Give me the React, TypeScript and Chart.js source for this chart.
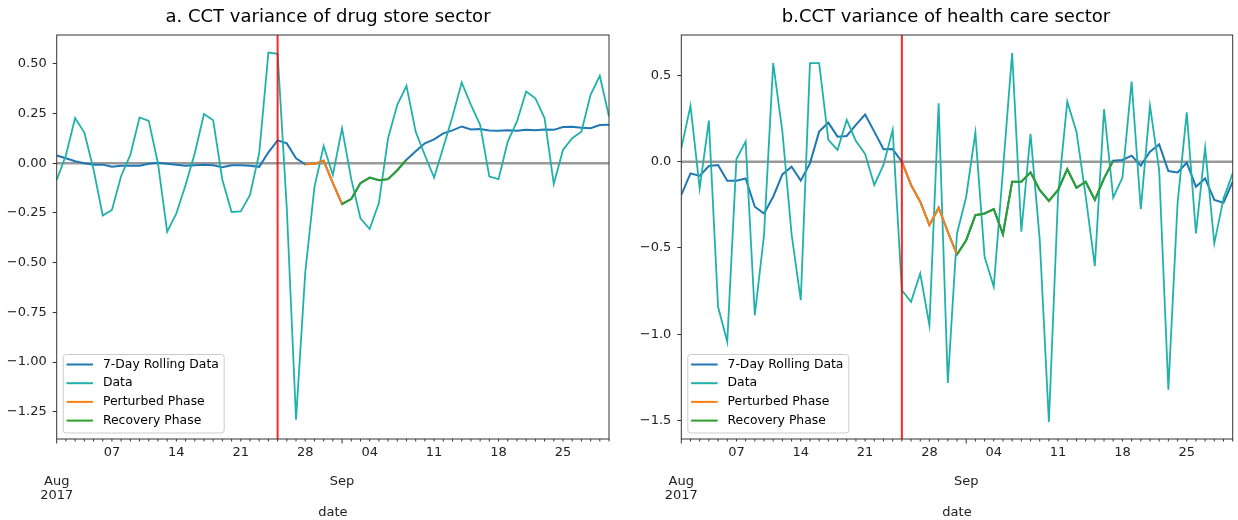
import React, { useEffect, useRef } from 'react';
import { Chart, registerables } from 'chart.js';

Chart.register(...registerables);

// ---------- data (index 0 = 2017-08-01 … index 60 = 2017-09-30) ----------
const weekTickIdx = [6, 13, 20, 27, 34, 41, 48, 55];
const weekTickLabels = ['07', '14', '21', '28', '04', '11', '18', '25'];
const monthTickIdx = [0, 31];
const monthTickLabels = [['Aug', '2017'], ['Sep']];
const eventIdx = 24; // 2017-08-25
const legendLabels = ['7-Day Rolling Data', 'Data', 'Perturbed Phase', 'Recovery Phase'];

const drugTitle = 'a. CCT variance of drug store sector';
const drugData = [
  -0.084, 0.04, 0.227, 0.154, -0.03, -0.263, -0.235, -0.064, 0.042, 0.23,
  0.213, 0.0, -0.344, -0.252, -0.11, 0.05, 0.248, 0.216, -0.084, -0.245,
  -0.242, -0.16, 0.05, 0.557, 0.55, -0.23, -1.29, -0.55, -0.12, 0.087,
  -0.059, 0.176, -0.08, -0.277, -0.331, -0.2, 0.126, 0.294, 0.389, 0.159,
  0.04, -0.072, 0.08, 0.235, 0.406, 0.294, 0.193, -0.067, -0.08, 0.109,
  0.21, 0.361, 0.327, 0.227, -0.104, 0.067, 0.126, 0.159, 0.344, 0.44,
  0.235,
];
const drugRolling = [
  0.039, 0.025, 0.01, 0.0, -0.007, -0.007, -0.018, -0.013, -0.013, -0.013,
  -0.003, 0.003, -0.003, -0.008, -0.013, -0.01, -0.008, -0.01, -0.02, -0.01,
  -0.01, -0.013, -0.018, 0.055, 0.115, 0.1, 0.025, -0.005, -0.003, 0.013,
  -0.1, -0.205, -0.18, -0.1, -0.072, -0.085, -0.08, -0.035, 0.018, 0.06,
  0.1, 0.12, 0.15, 0.165, 0.185, 0.17, 0.172, 0.165, 0.163, 0.166,
  0.163, 0.168, 0.166, 0.17, 0.168, 0.182, 0.183, 0.178, 0.176, 0.192,
  0.193,
];
const drugPerturbed = [27, 31];
const drugRecovery = [31, 38];
const drugYTicks = [0.5, 0.25, 0, -0.25, -0.5, -0.75, -1.0, -1.25];

const healthTitle = 'b.CCT variance of health care sector';
const healthData = [
  0.077, 0.323, -0.155, 0.238, -0.841, -1.044, 0.015, 0.116, -0.89, -0.426,
  0.571, 0.174, -0.42, -0.803, 0.571, 0.571, 0.126, 0.068, 0.242, 0.12,
  0.045, -0.135, -0.019, 0.184, -0.745, -0.812, -0.648, -0.948, 0.338, -1.282,
  -0.416, -0.203, 0.168, -0.551, -0.725, -0.05, 0.629, -0.406, 0.161, -0.45,
  -1.509, -0.193, 0.348, 0.174, -0.2, -0.605, 0.304, -0.209, -0.093, 0.464,
  -0.275, 0.325, -0.05, -1.321, -0.242, 0.286, -0.416, 0.081, -0.474, -0.213,
  -0.068,
];
const healthRolling = [
  -0.193, -0.068, -0.083, -0.025, -0.019, -0.11, -0.11, -0.097, -0.261, -0.3,
  -0.203, -0.074, -0.029, -0.11, -0.01, 0.174, 0.226, 0.145, 0.149, 0.213,
  0.273, 0.174, 0.072, 0.073, 0.0, -0.135, -0.232, -0.368, -0.267, -0.406,
  -0.538, -0.455, -0.31, -0.3, -0.275, -0.42, -0.116, -0.116, -0.062, -0.164,
  -0.227, -0.164, -0.043, -0.151, -0.116, -0.222, -0.097, 0.006, 0.01, 0.035,
  -0.023, 0.058, 0.1, -0.054, -0.062, -0.006, -0.145, -0.097, -0.222, -0.238,
  -0.116,
];
const healthPerturbed = [24, 30];
const healthRecovery = [30, 47];
const healthYTicks = [0.5, 0.0, -0.5, -1.0, -1.5];

// ---------- styles ----------
const FONT = "'DejaVu Sans', 'Liberation Sans', sans-serif";
const C_ROLL = '#1f77b4';
const C_DATA = '#20b2aa';
const C_PERT = '#ff7f0e';
const C_REC = '#2ca02c';
const legendColors = [C_ROLL, C_DATA, C_PERT, C_REC];
const TXT = 13;
const LEG_TXT = 12.4;

type PanelCfg = {
  title: string;
  titleX: number;
  data: number[];
  rolling: number[];
  perturbed: number[];
  recovery: number[];
  yTicks: number[];
  yDecimals: number;
  yMin: number;
  yMax: number;
  yAxisWidth: number;
  padRight: number;
  canvasLeft: number;
};

const W = 619;
const H = 520;

function fmt(v: number, d: number) {
  const s = Math.abs(v).toFixed(d);
  return v < -1e-9 ? '\u2212' + s : s;
}

function Panel({ cfg }: { cfg: PanelCfg }) {
  const ref = useRef<HTMLCanvasElement | null>(null);
  useEffect(() => {
    const pts = (arr: number[], range?: number[]) =>
      arr.map((v, i) => ({ x: i, y: range && (i < range[0] || i > range[1]) ? null : v }));
    const lastIdx = cfg.data.length - 1;

    const decor = {
      id: 'decor',
      beforeDatasetsDraw(chart: any) {
        const { ctx, chartArea: ca, scales } = chart;
        const y0 = scales.y.getPixelForValue(0);
        ctx.save();
        ctx.strokeStyle = 'rgba(128,128,128,0.8)';
        ctx.lineWidth = 2.5;
        ctx.beginPath();
        ctx.moveTo(ca.left, y0);
        ctx.lineTo(ca.right, y0);
        ctx.stroke();
        ctx.restore();
      },
      afterDatasetsDraw(chart: any) {
        const { ctx, chartArea: ca, scales } = chart;
        const xr = scales.x.getPixelForValue(eventIdx);
        ctx.save();
        ctx.strokeStyle = 'rgba(255,0,0,0.85)';
        ctx.lineWidth = 2;
        ctx.beginPath();
        ctx.moveTo(xr, ca.top);
        ctx.lineTo(xr, ca.bottom);
        ctx.stroke();
        ctx.restore();
      },
      afterDraw(chart: any) {
        const { ctx, chartArea: ca, scales } = chart;
        ctx.save();
        // frame
        ctx.strokeStyle = '#333';
        ctx.lineWidth = 1;
        ctx.strokeRect(ca.left, ca.top, ca.right - ca.left, ca.bottom - ca.top);
        // x tick marks (daily minor, monthly major)
        for (let i = 0; i <= lastIdx; i++) {
          const x = scales.x.getPixelForValue(i);
          const len = monthTickIdx.includes(i) ? 4.5 : 2.5;
          ctx.beginPath();
          ctx.moveTo(x, ca.bottom);
          ctx.lineTo(x, ca.bottom + len);
          ctx.stroke();
        }
        // month labels
        ctx.fillStyle = '#222';
        ctx.font = `${TXT}px ${FONT}`;
        ctx.textAlign = 'center';
        ctx.textBaseline = 'middle';
        monthTickIdx.forEach((idx, k) => {
          const x = scales.x.getPixelForValue(idx);
          monthTickLabels[k].forEach((line, j) => {
            ctx.fillText(line, x, 482 + j * 14);
          });
        });
        // title
        ctx.fillStyle = '#000';
        ctx.font = `18px ${FONT}`;
        ctx.fillText(cfg.title, cfg.titleX, 17);
        // legend
        const bw = 161;
        const bh = 78.5;
        const bx = ca.left + 6.5;
        const by = ca.bottom - 6 - bh;
        ctx.beginPath();
        const r = 3;
        ctx.moveTo(bx + r, by);
        ctx.lineTo(bx + bw - r, by);
        ctx.arcTo(bx + bw, by, bx + bw, by + r, r);
        ctx.lineTo(bx + bw, by + bh - r);
        ctx.arcTo(bx + bw, by + bh, bx + bw - r, by + bh, r);
        ctx.lineTo(bx + r, by + bh);
        ctx.arcTo(bx, by + bh, bx, by + bh - r, r);
        ctx.lineTo(bx, by + r);
        ctx.arcTo(bx, by, bx + r, by, r);
        ctx.closePath();
        ctx.fillStyle = 'rgba(255,255,255,0.8)';
        ctx.fill();
        ctx.strokeStyle = '#cccccc';
        ctx.lineWidth = 1;
        ctx.stroke();
        ctx.textAlign = 'left';
        ctx.font = `${LEG_TXT}px ${FONT}`;
        legendLabels.forEach((lab, k) => {
          const yy = by + 10 + k * 18.7;
          ctx.strokeStyle = legendColors[k];
          ctx.lineWidth = 2;
          ctx.beginPath();
          ctx.moveTo(bx + 3.3, yy);
          ctx.lineTo(bx + 29.8, yy);
          ctx.stroke();
          ctx.fillStyle = '#000';
          ctx.fillText(lab, bx + 39.7, yy);
        });
        ctx.restore();
      },
    };

    const chart = new Chart(ref.current as HTMLCanvasElement, {
      type: 'line',
      data: {
        datasets: [
          { label: legendLabels[0], data: pts(cfg.rolling), borderColor: C_ROLL, borderWidth: 2, order: 4 },
          { label: legendLabels[1], data: pts(cfg.data), borderColor: C_DATA, borderWidth: 1.8, order: 3 },
          { label: legendLabels[2], data: pts(cfg.rolling, cfg.perturbed), borderColor: C_PERT, borderWidth: 2, order: 2 },
          { label: legendLabels[3], data: pts(cfg.rolling, cfg.recovery), borderColor: C_REC, borderWidth: 2, order: 1 },
        ] as any,
      },
      options: {
        responsive: false,
        animation: false,
        devicePixelRatio: 1,
        layout: { padding: { left: 0, right: cfg.padRight, top: 35, bottom: 0 } },
        elements: { point: { radius: 0 }, line: { tension: 0 } },
        plugins: { legend: { display: false }, tooltip: { enabled: false }, title: { display: false } },
        scales: {
          x: {
            type: 'linear',
            min: 0,
            max: lastIdx,
            afterBuildTicks: (s: any) => {
              s.ticks = weekTickIdx.map((v) => ({ value: v }));
            },
            afterFit: (s: any) => {
              s.height = H - 439;
            },
            ticks: {
              autoSkip: false,
              maxRotation: 0,
              padding: 6,
              color: '#222',
              font: { family: FONT, size: TXT },
              callback: (v: any) => {
                const k = weekTickIdx.indexOf(Number(v));
                return k >= 0 ? weekTickLabels[k] : '';
              },
            },
            grid: { display: false, drawTicks: false },
            border: { display: false },
            title: { display: true, text: 'date', padding: { top: 0, bottom: 0 }, color: '#222', font: { family: FONT, size: TXT } },
          },
          y: {
            min: cfg.yMin,
            max: cfg.yMax,
            afterBuildTicks: (s: any) => {
              s.ticks = cfg.yTicks.map((v) => ({ value: v }));
            },
            afterFit: (s: any) => {
              s.width = cfg.yAxisWidth;
            },
            ticks: {
              padding: 6,
              color: '#222',
              font: { family: FONT, size: TXT },
              callback: (v: any) => fmt(Number(v), cfg.yDecimals),
            },
            grid: { display: true, drawOnChartArea: false, drawTicks: true, tickLength: 4, tickColor: '#333' },
            border: { display: false },
          },
        },
      } as any,
      plugins: [decor],
    });
    return () => chart.destroy();
  }, [cfg]);

  return (
    <canvas
      ref={ref}
      width={W}
      height={H}
      style={{ position: 'absolute', left: cfg.canvasLeft, top: 0, width: W, height: H, display: 'block' }}
    />
  );
}

const drugCfg: PanelCfg = {
  title: drugTitle,
  titleX: 328,
  data: drugData,
  rolling: drugRolling,
  perturbed: drugPerturbed,
  recovery: drugRecovery,
  yTicks: drugYTicks,
  yDecimals: 2,
  yMin: -1.387,
  yMax: 0.645,
  yAxisWidth: 56.7,
  padRight: 10,
  canvasLeft: 0,
};

const healthCfg: PanelCfg = {
  title: healthTitle,
  titleX: 327,
  data: healthData,
  rolling: healthRolling,
  perturbed: healthPerturbed,
  recovery: healthRecovery,
  yTicks: healthYTicks,
  yDecimals: 1,
  yMin: -1.607,
  yMax: 0.734,
  yAxisWidth: 62.3,
  padRight: 5.3,
  canvasLeft: 619,
};

export default function App() {
  return (
    <div style={{ position: 'absolute', left: 0, top: 0, width: 1238, height: 520, background: '#fff', overflow: 'hidden' }}>
      <Panel cfg={drugCfg} />
      <Panel cfg={healthCfg} />
    </div>
  );
}
